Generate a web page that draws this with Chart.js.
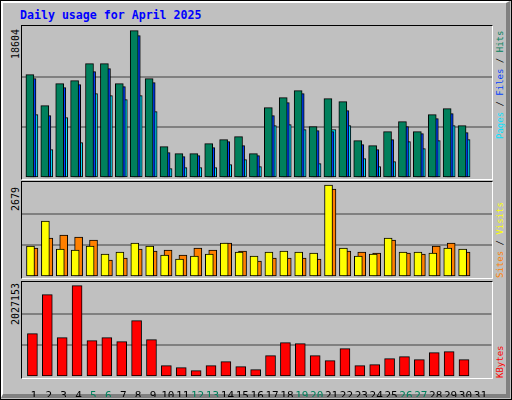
<!DOCTYPE html>
<html>
<head>
<meta charset="utf-8">
<script src="https://cdn.jsdelivr.net/npm/chart.js@4/dist/chart.umd.min.js"></script>
<style>
  body { margin: 0; background: #fff; }
  #wrap { position: relative; width: 510px; height: 398px; background: #c0c0c0; border: 1px solid #000; overflow: hidden; }
  #bevel { position: absolute; left: 0; top: 0; width: 503px; height: 391px; border-top: 2px solid #fff; border-left: 2px solid #fff; border-right: 4px solid #808080; border-bottom: 4px solid #808080; }
  .frame { position: absolute; border-top: 1px solid #000; border-left: 1px solid #000; border-right: 1px solid #fff; border-bottom: 1px solid #fff; }
  canvas { position: absolute; }
  .txt { position: absolute; font-family: "DejaVu Sans Mono", monospace; white-space: nowrap; }
  .rot { transform-origin: left top; transform: rotate(-90deg); }
  #title { left: 19px; top: 7px; font-size: 11.6px; font-weight: bold; color: #0000ff; }
</style>
</head>
<body>
<div id="wrap">
  <div id="bevel"></div>
  <div id="title" class="txt">Daily usage for April 2025</div>
  <div class="frame" style="left:20px;top:24px;width:470px;height:153px"></div>
  <div class="frame" style="left:20px;top:180px;width:470px;height:96px"></div>
  <div class="frame" style="left:20px;top:280px;width:470px;height:96px"></div>
  <canvas id="c1" width="470" height="152" style="left:21px;top:25px"></canvas>
  <canvas id="c2" width="470" height="95" style="left:21px;top:181px"></canvas>
  <canvas id="c3" width="470" height="115" style="left:21px;top:281px"></canvas>
  <div class="txt rot" style="left:9px;top:58px;font-size:10px">18604</div>
  <div class="txt rot" style="left:9px;top:210px;font-size:10px">2679</div>
  <div class="txt rot" style="left:9px;top:324px;font-size:10px">2027153</div>
  <div class="txt rot" style="left:494px;top:138px;font-size:9px"><span style="color:#00e0ff">Pages</span> / <span style="color:#0040ff">Files</span> / <span style="color:#00805c">Hits</span></div>
  <div class="txt rot" style="left:494px;top:277px;font-size:9px"><span style="color:#ff8000">Sites</span> / <span style="color:#ffff00">Visits</span></div>
  <div class="txt rot" style="left:494px;top:377px;font-size:9px;color:#ff0000">KBytes</div>
</div>
<script>
const days = Array.from({length: 31}, (_, i) => i + 1);
const weekendDays = [5, 6, 12, 13, 19, 20, 26, 27];

const hits = [13048, 9134, 11912, 12290, 14437, 14437, 11912, 18604, 12543, 3956, 3073, 3073, 4335, 4840, 5219, 3073, 8881, 10144, 11028, 6482, 10017, 9639, 4714, 4083, 5851, 7113, 5851, 7997, 8755, 6608, 0];
const files = [12543, 7871, 11406, 11785, 13427, 13806, 11533, 17972, 12038, 3199, 2694, 2820, 3830, 4588, 4083, 2820, 7871, 9512, 10649, 5977, 5851, 8502, 4209, 3578, 4840, 6482, 5598, 7492, 8123, 5724, 0];
const pages = [7997, 3578, 7618, 4462, 10649, 10396, 9891, 10396, 8376, 1179, 1305, 1305, 1305, 1684, 2315, 1431, 6608, 6734, 6103, 1810, 6103, 6608, 2441, 1431, 2062, 4588, 3704, 4714, 6608, 4840, 0];
const visits = [903, 1631, 816, 786, 903, 670, 728, 990, 903, 641, 524, 612, 670, 990, 728, 612, 728, 757, 728, 699, 2679, 845, 612, 670, 1136, 728, 728, 699, 845, 816, 0];
const sites = [845, 1136, 1223, 1165, 1078, 495, 553, 816, 757, 786, 641, 845, 786, 990, 757, 466, 553, 553, 553, 524, 2563, 757, 728, 699, 1078, 699, 670, 903, 990, 728, 0];
const kbytes = [961740, 1827306, 872964, 2027153, 806382, 872964, 784188, 1250262, 828576, 251532, 207144, 140562, 251532, 340308, 229338, 162756, 473472, 761994, 739800, 473472, 362502, 628830, 251532, 273726, 406890, 451278, 384696, 540054, 562248, 384696, 0];

function series(values, shift, color, width) {
    return {
        data: values.map((v, i) => ({x: days[i] + shift, y: v})).filter(p => p.y > 0),
        backgroundColor: color,
        borderColor: '#000',
        borderWidth: 1,
        borderSkipped: false,
        barThickness: width
    };
}

function makeChart(id, datasets, top, showDays) {
    const ctx = document.getElementById(id).getContext('2d');
    return new Chart(ctx, {
        type: 'bar',
        data: {datasets},
        options: {
            responsive: false,
            animation: false,
            devicePixelRatio: 1,
            layout: {padding: 0},
            datasets: {bar: {grouped: false}},
            plugins: {legend: {display: false}, tooltip: {enabled: false}},
            scales: {
                x: {
                    type: 'linear',
                    offset: false,
                    min: 0.2, max: 31.74,
                    display: showDays,
                    grid: {display: false},
                    border: {display: false},
                    afterBuildTicks: s => { s.ticks = days.map(d => ({value: d})); },
                    afterFit: s => { if (showDays) s.height = 20; },
                    ticks: {
                        autoSkip: false, maxRotation: 0, padding: 5,
                        font: {family: 'DejaVu Sans Mono', size: 11},
                        color: c => weekendDays.includes(c.tick.value) ? '#00805c' : '#000',
                        callback: v => String(v)
                    }
                },
                y: {
                    min: 0, max: top,
                    afterBuildTicks: s => { s.ticks = [0, top / 3, top * 2 / 3, top].map(v => ({value: v})); },
                    afterFit: s => { s.width = 0; },
                    ticks: {display: false},
                    border: {display: false},
                    grid: {
                        color: c => (c.tick.value > 0 && c.tick.value < top) ? '#808080' : 'rgba(0,0,0,0)',
                        lineWidth: 2, drawTicks: false
                    }
                }
            }
        }
    });
}

makeChart('c1', [
    series(hits, -0.27, '#00805c', 8),
    series(files, -0.13, '#0040ff', 8),
    series(pages, 0, '#00e0ff', 8)
], Math.max(...hits) * 152 / 147.4, false);

makeChart('c2', [
    series(visits, -0.23, '#ffff00', 8),
    series(sites, 0, '#ff8000', 8)
], Math.max(...visits) * 95 / 92, false);

makeChart('c3', [
    series(kbytes, -0.1, '#ff0000', 10)
], Math.max(...kbytes) * 95 / 91.4, true);
</script>
</body>
</html>
